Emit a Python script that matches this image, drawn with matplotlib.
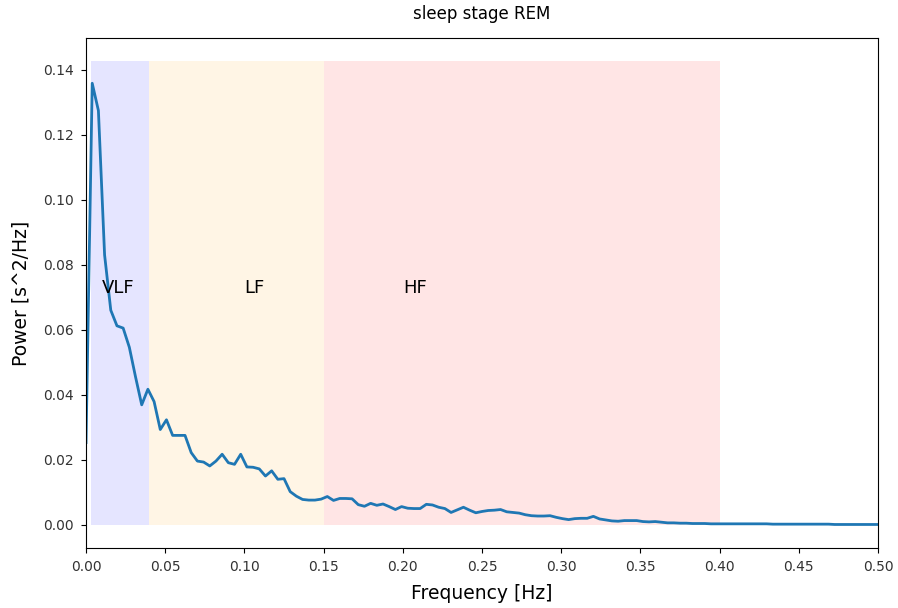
import numpy as np
import matplotlib
matplotlib.use("Agg")
import matplotlib.pyplot as plt
from matplotlib.ticker import FormatStrFormatter

# frequency step of the PSD (Welch, 1/256 Hz)
DF = 1.0 / 256

power = [
    0.0253, 0.1358, 0.1274, 0.0830, 0.0660, 0.0612, 0.0605, 0.0546, 0.0455, 0.0369,
    0.0417, 0.0379, 0.0293, 0.0323, 0.0275, 0.0275, 0.0275, 0.0222, 0.0196, 0.0193,
    0.0181, 0.0196, 0.0217, 0.0191, 0.0186, 0.0217, 0.0178, 0.0177, 0.0172, 0.0150,
    0.0166, 0.0140, 0.0142, 0.0102, 0.0088, 0.0078, 0.0076, 0.0076, 0.0079, 0.0087,
    0.0075, 0.0081, 0.0081, 0.0080, 0.0062, 0.0057, 0.0066, 0.0060, 0.0064, 0.0056,
    0.0047, 0.0056, 0.0051, 0.0050, 0.0050, 0.0063, 0.0061, 0.0054, 0.0050, 0.0038,
    0.0046, 0.0054, 0.0045, 0.0037, 0.0041, 0.0044, 0.0045, 0.0047, 0.0040, 0.0038,
    0.0036, 0.0031, 0.0028, 0.0027, 0.0027, 0.0028, 0.0023, 0.0019, 0.0016, 0.0019,
    0.0020, 0.0020, 0.0026, 0.0018, 0.0015, 0.0012, 0.0011, 0.0013, 0.0013, 0.0013,
    0.0010, 0.0009, 0.0010, 0.0008, 0.0006, 0.0006, 0.0005, 0.0005, 0.0004, 0.0004,
    0.0004, 0.0003, 0.0003, 0.0003, 0.0003, 0.0003, 0.0003, 0.0003, 0.0003, 0.0003,
    0.0003, 0.0002, 0.0002, 0.0002, 0.0002, 0.0002, 0.0002, 0.0002, 0.0002, 0.0002,
    0.0002, 0.0001, 0.0001, 0.0001, 0.0001, 0.0001, 0.0001, 0.0001, 0.0001,
]
freqs = np.arange(len(power)) * DF

# frequency bands
band_names = ["VLF", "LF", "HF"]
band_edges = [(0.0033, 0.04), (0.04, 0.15), (0.15, 0.40)]
band_colors = ["blue", "orange", "red"]
label_x = [0.01, 0.10, 0.20]

x_ticks = [0.00, 0.05, 0.10, 0.15, 0.20, 0.25, 0.30, 0.35, 0.40, 0.45, 0.50]

fig = plt.figure(figsize=(8.98, 6.08), dpi=100)
ax = fig.add_axes([0.0958, 0.0987, 0.8819, 0.8388])

ymax = max(power) * 1.05
for name, (lo, hi), col, tx in zip(band_names, band_edges, band_colors, label_x):
    ax.fill_between([lo, hi], 0, ymax, color=col, alpha=0.1, linewidth=0)
    ax.text(tx, ymax / 2, name, fontsize=13)

ax.plot(freqs, power, linewidth=2)

ax.set_xlim(0, 0.5)
ax.set_xticks(x_ticks)
ax.xaxis.set_major_formatter(FormatStrFormatter("%.2f"))
ax.tick_params(labelsize=10, labelcolor="#333333", pad=5)
ax.set_xlabel("Frequency [Hz]", fontsize=13.5, labelpad=7)
ax.set_ylabel("Power [s^2/Hz]", fontsize=13.5, labelpad=9)
ax.set_title("sleep stage REM", fontsize=12, pad=14)

fig.savefig("out.png", dpi=100)
